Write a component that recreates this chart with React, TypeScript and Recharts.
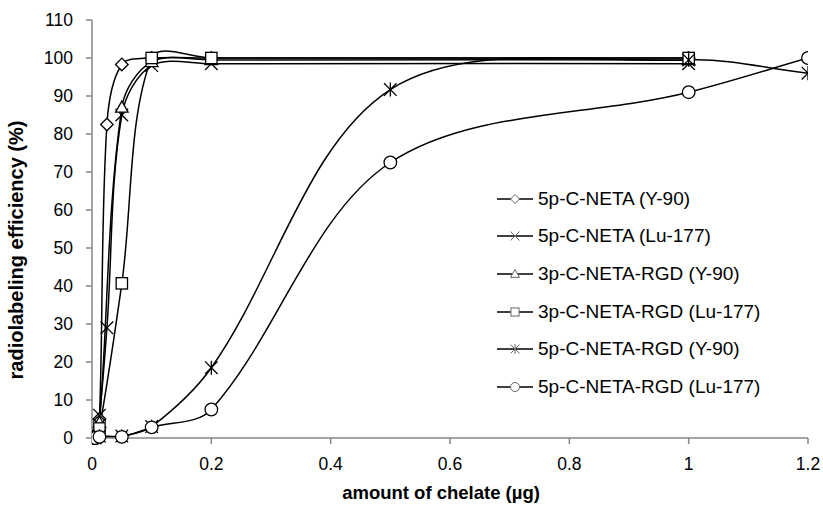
import React from 'react';
import { LineChart, Line, XAxis, YAxis, Legend } from 'recharts';

// ---- data ----
const xTicks = [0, 0.2, 0.4, 0.6, 0.8, 1, 1.2];
const yTicks = [0, 10, 20, 30, 40, 50, 60, 70, 80, 90, 100, 110];

const seriesNames = [
  '5p-C-NETA (Y-90)',
  '5p-C-NETA (Lu-177)',
  '3p-C-NETA-RGD (Y-90)',
  '3p-C-NETA-RGD (Lu-177)',
  '5p-C-NETA-RGD (Y-90)',
  '5p-C-NETA-RGD (Lu-177)',
];
const seriesShapes = ['diamond', 'x', 'triangle', 'square', 'star', 'circle'];

const x5pNetaY90 = [0, 0.005, 0.0125, 0.025, 0.05, 0.1, 0.2, 1];
const y5pNetaY90 = [0, 0.5, 5, 82.5, 98.3, 100, 100, 100];

const x5pNetaLu177 = [0, 0.005, 0.0125, 0.025, 0.05, 0.1, 0.2, 1];
const y5pNetaLu177 = [0, 0.5, 6, 29, 85, 98, 98.5, 98.5];

const x3pRgdY90 = [0, 0.005, 0.0125, 0.05, 0.1, 0.2, 1];
const y3pRgdY90 = [0, 0.5, 4, 87, 99, 99.5, 99.5];

const x3pRgdLu177 = [0, 0.005, 0.0125, 0.05, 0.1, 0.2, 1];
const y3pRgdLu177 = [0, 0.5, 2.5, 40.7, 100, 100, 100];

const x5pRgdY90 = [0, 0.005, 0.0125, 0.05, 0.1, 0.2, 0.5, 1, 1.2];
const y5pRgdY90 = [0, 0, 0.5, 0.5, 3, 18.5, 91.7, 99.5, 96];

const x5pRgdLu177 = [0, 0.005, 0.0125, 0.05, 0.1, 0.2, 0.5, 1, 1.2];
const y5pRgdLu177 = [0, 0, 0.3, 0.3, 2.8, 7.5, 72.5, 91, 100];

const seriesX = [x5pNetaY90, x5pNetaLu177, x3pRgdY90, x3pRgdLu177, x5pRgdY90, x5pRgdLu177];
const seriesY = [y5pNetaY90, y5pNetaLu177, y3pRgdY90, y3pRgdLu177, y5pRgdY90, y5pRgdLu177];

const build = (xs: number[], ys: number[]) => xs.map((x, i) => ({ x, y: ys[i] }));

// ---- Excel-like smoothing curve (chord-weighted cardinal spline) ----
function excelCurve(context: any) {
  let pts: number[][] = [];
  const dist = (a: number[], b: number[]) => Math.hypot(b[0] - a[0], b[1] - a[1]);
  return {
    areaStart() {},
    areaEnd() {},
    lineStart() {
      pts = [];
    },
    point(x: number, y: number) {
      pts.push([+x, +y]);
    },
    lineEnd() {
      const n = pts.length;
      if (!n) return;
      context.moveTo(pts[0][0], pts[0][1]);
      if (n === 1) return;
      const outC: number[][] = [];
      const inC: number[][] = [];
      for (let i = 0; i < n; i++) {
        const p0 = pts[i - 1] || pts[i];
        const p1 = pts[i];
        const p2 = pts[i + 1] || pts[i];
        const tx = p2[0] - p0[0];
        const ty = p2[1] - p0[1];
        const d01 = dist(p0, p1);
        const d12 = dist(p1, p2);
        const s = d01 + d12 || 1;
        const fo = d12 / s / 3;
        const fi = d01 / s / 3;
        outC.push([p1[0] + tx * fo, p1[1] + ty * fo]);
        inC.push([p1[0] - tx * fi, p1[1] - ty * fi]);
      }
      for (let i = 0; i < n - 1; i++) {
        const c1 = outC[i];
        const c2 = inC[i + 1];
        const p2 = pts[i + 1];
        context.bezierCurveTo(c1[0], c1[1], c2[0], c2[1], p2[0], p2[1]);
      }
    },
  };
}

const FONT = '"Liberation Sans", Arial, sans-serif';

function Marker({ shape, cx, cy, r, stroke, sw }: any) {
  const common = { fill: '#fff', stroke, strokeWidth: sw };
  switch (shape) {
    case 'diamond':
      return <polygon points={`${cx},${cy - r} ${cx + r},${cy} ${cx},${cy + r} ${cx - r},${cy}`} {...common} />;
    case 'square':
      return <rect x={cx - r * 0.9} y={cy - r * 0.9} width={r * 1.8} height={r * 1.8} {...common} />;
    case 'triangle':
      return <polygon points={`${cx},${cy - r} ${cx + r},${cy + r * 0.75} ${cx - r},${cy + r * 0.75}`} {...common} />;
    case 'circle':
      return <circle cx={cx} cy={cy} r={r} {...common} />;
    case 'x':
      return (
        <g stroke={stroke} strokeWidth={sw}>
          <line x1={cx - r} y1={cy - r} x2={cx + r} y2={cy + r} />
          <line x1={cx - r} y1={cy + r} x2={cx + r} y2={cy - r} />
        </g>
      );
    case 'star':
      return (
        <g stroke={stroke} strokeWidth={sw}>
          <line x1={cx - r} y1={cy - r} x2={cx + r} y2={cy + r} />
          <line x1={cx - r} y1={cy + r} x2={cx + r} y2={cy - r} />
          <line x1={cx} y1={cy - r * 1.1} x2={cx} y2={cy + r * 1.1} />
        </g>
      );
    default:
      return null;
  }
}

const renderDot = (shape: string) => (props: any) => {
  const { cx, cy, index } = props;
  if (cx == null || cy == null) return <g key={index} />;
  return (
    <g key={index}>
      <Marker shape={shape} cx={cx} cy={cy} r={6.3} stroke="#000" sw={1.3} />
    </g>
  );
};

const renderLegend = () => (
  <div style={{ fontFamily: FONT, fontSize: 19, color: '#000' }}>
    {seriesNames.map((name, i) => (
      <div key={name} style={{ height: 37.6, display: 'flex', alignItems: 'center', whiteSpace: 'nowrap' }}>
        <svg width={37} height={20} style={{ display: 'block' }}>
          <line x1={0} y1={10} x2={36} y2={10} stroke="#000" strokeWidth={1.5} />
          <Marker shape={seriesShapes[i]} cx={18} cy={10} r={4.5} stroke="#666" sw={1} />
        </svg>
        <span style={{ marginLeft: 4 }}>{name}</span>
      </div>
    ))}
  </div>
);

const fmt = (v: number) => String(Math.round(v * 10) / 10);

export default function App() {
  return (
    <div style={{ position: 'absolute', left: 0, top: 0, width: 823, height: 508, background: '#fff' }}>
      <LineChart width={823} height={508} margin={{ top: 20, right: 15, bottom: 0, left: 0 }}>
        <XAxis
          dataKey="x"
          type="number"
          domain={[0, 1.2]}
          ticks={xTicks}
          tickFormatter={fmt}
          allowDataOverflow
          height={70}
          stroke="#868686"
          strokeWidth={1.5}
          tickSize={6}
          tickMargin={14}
          tick={{ fill: '#000', fontSize: 17.5, fontFamily: FONT }}
          label={{
            content: () => (
              <text x={441} y={492} textAnchor="middle" dominantBaseline="central" fontFamily={FONT} fontSize={18.5} fontWeight="bold" fill="#000">
                amount of chelate (µg)
              </text>
            ),
          }}
        />
        <YAxis
          type="number"
          domain={[0, 110]}
          ticks={yTicks}
          width={92}
          stroke="#868686"
          strokeWidth={1.5}
          tickSize={6}
          tickMargin={13}
          tick={{ fill: '#000', fontSize: 17.5, fontFamily: FONT }}
          label={{
            content: () => (
              <text x={16} y={250} transform="rotate(-90, 16, 250)" textAnchor="middle" dominantBaseline="central" fontFamily={FONT} fontSize={20} fontWeight="bold" fill="#000">
                radiolabeling efficiency (%)
              </text>
            ),
          }}
        />
        <Legend
          layout="vertical"
          align="center"
          verticalAlign="middle"
          content={renderLegend}
          wrapperStyle={{ position: 'absolute', left: 497, top: 180, width: 320 }}
        />
        {seriesNames.map((name, i) => (
          <Line
            key={name}
            name={name}
            data={build(seriesX[i], seriesY[i])}
            dataKey="y"
            type={excelCurve as any}
            stroke="#000"
            strokeWidth={1.5}
            dot={renderDot(seriesShapes[i])}
            activeDot={false}
            isAnimationActive={false}
          />
        ))}
      </LineChart>
    </div>
  );
}
